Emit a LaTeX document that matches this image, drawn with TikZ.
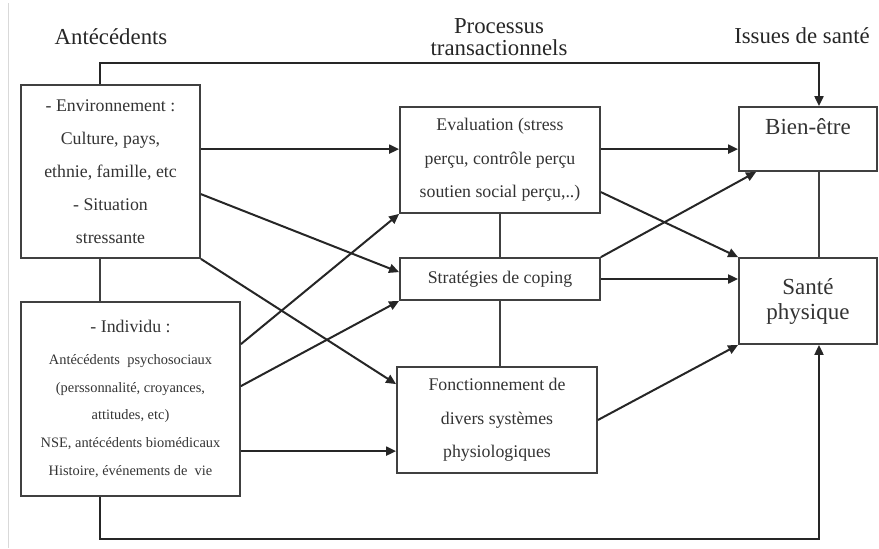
\documentclass[tikz,border=0pt]{standalone}
\usepackage{fontspec}
\setmainfont{Liberation Serif}
\usetikzlibrary{arrows.meta,calc}

\begin{document}
\begin{tikzpicture}[x=0.5pt,y=-0.5pt,
  box/.style={draw=black!75,line width=0.9pt,text=black!80,align=center,inner sep=0pt},
  arr/.style={line width=1pt,black!85,-{Triangle[length=5pt,width=4.5pt]}},
  lnk/.style={line width=0.9pt,black!75},
  titre/.style={text=black!85,align=center,font=\fontsize{11.4}{11}\selectfont}]
\useasboundingbox (0,0) rectangle (879,548);
\draw[black!15] (8,3) -- (8,548);

\node[titre,anchor=base] (ante) at (111,44) {Antécédents};
\node[titre] (proc) at (499,37) {Processus\\transactionnels};
\node[titre,anchor=base] (issue) at (802,43) {Issues de santé};

\node[box,minimum width=89.5pt,minimum height=86.5pt,font=\fontsize{8.9}{16.5}\selectfont] (env) at (110.5,171.5)
  {- Environnement :\\Culture, pays,\\ethnie, famille, etc\\- Situation\\stressante};
\node[box,minimum width=109.5pt,minimum height=97pt,font=\fontsize{7.2}{13.9}\selectfont] (indiv) at (130.5,399)
  {{\fontsize{8.9}{12}\selectfont - Individu :}\\[2pt]Antécédents\ \ psychosociaux\\(perssonnalité, croyances,\\attitudes, etc)\\NSE, antécédents biomédicaux\\Histoire, événements de\ \ vie};

\node[box,minimum width=100pt,minimum height=53pt,font=\fontsize{8.9}{16.7}\selectfont] (eval) at (500,160)
  {Evaluation (stress\\perçu, contrôle perçu\\soutien social perçu,..)};
\node[box,minimum width=100pt,minimum height=21pt,font=\fontsize{8.9}{16.7}\selectfont] (strat) at (500,279)
  {Stratégies de coping};
\node[box,minimum width=100pt,minimum height=53pt,font=\fontsize{8.9}{16.7}\selectfont] (fonct) at (497,420)
  {Fonctionnement de\\divers systèmes\\physiologiques};

\node[box,minimum width=69pt,minimum height=32pt,font=\fontsize{11.5}{12.5}\selectfont] (bien) at (808,139)
  {Bien-être\\\mbox{}};
\node[box,minimum width=69pt,minimum height=43pt,font=\fontsize{11.5}{12.5}\selectfont] (sante) at (808,301)
  {Santé\\physique};

% liens sans fleche
\draw[lnk] ($(env.south)+(-10.5,0)$) -- ($(indiv.north)+(-30.5,0)$);
\draw[lnk] (eval.south) -- (strat.north);
\draw[lnk] (strat.south) -- (strat.south |- fonct.north);
\draw[lnk] ($(bien.south)+(11,0)$) -- ($(sante.north)+(11,0)$);

% antecedents -> issues
\draw[arr] ($(env.north)+(-10.5,0)$) -- ++(0,-21) -| ($(bien.north)+(11,0)$);
\draw[arr] ($(indiv.south)+(-30.5,0)$) -- ++(0,42) -| ($(sante.south)+(11,0)$);

% antecedents -> processus
\draw[arr] ($(env.north east)+(0,65)$) -- ($(eval.north west)+(0,43)$);
\draw[arr] ($(env.north east)+(0,110)$) -- ($(strat.north west)+(0,15)$);
\draw[arr] (env.south east) -- ($(fonct.north west)+(0,18)$);
\draw[arr] ($(indiv.north east)+(0,43)$) -- (eval.south west);
\draw[arr] ($(indiv.north east)+(0,85)$) -- (strat.south west);
\draw[arr] ($(indiv.north east)+(0,150)$) -- ($(fonct.north west)+(0,85)$);

% processus -> issues
\draw[arr] ($(eval.north east)+(0,43)$) -- ($(bien.north west)+(0,43)$);
\draw[arr] ($(eval.north east)+(0,86)$) -- (sante.north west);
\draw[arr] (strat.north east) -- ($(bien.south west)+(18,0)$);
\draw[arr] (strat.east) -- (sante.west |- strat.east);
\draw[arr] (fonct.east) -- (sante.south west);
\end{tikzpicture}
\end{document}
